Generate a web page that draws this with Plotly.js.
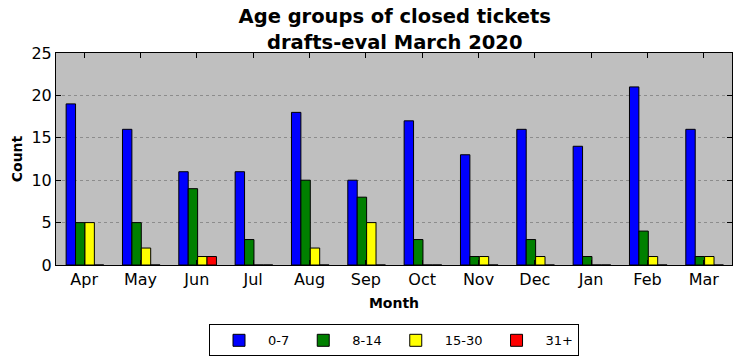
<!DOCTYPE html>
<html>
<head>
<meta charset="utf-8">
<script src="https://cdn.plot.ly/plotly-3.0.1.min.js"></script>
<style>html,body{margin:0;padding:0;background:#fff;}#chart{width:742px;height:361px;}</style>
</head>
<body>
<div id="chart"></div>
<script>
const months = ["Apr","May","Jun","Jul","Aug","Sep","Oct","Nov","Dec","Jan","Feb","Mar"];
const seriesNames = ["0-7","8-14","15-30","31+"];
const g0_7   = [19,16,11,11,18,10,17,13,16,14,21,16];
const g8_14  = [5,5,9,3,10,8,3,1,3,1,4,1];
const g15_30 = [5,2,1,0,2,5,0,1,1,0,1,1];
const g31p   = [0,0,1,0,0,0,0,0,0,0,0,0];
const colors = ["#0000ff","#008000","#ffff00","#ff0000"];

const allSeries = [g0_7, g8_14, g15_30, g31p];
const w = 0.167;
const start = -0.32;
const traces = allSeries.map((vals, i) => ({
  type: "bar",
  name: seriesNames[i],
  x: months,
  y: vals,
  width: w,
  offset: start + i * w,
  marker: {color: colors[i], line: {color: "#000", width: 1}},
  hoverinfo: "x+y+name"
}));

const layout = {
  width: 742, height: 361,
  margin: {l: 56, r: 10, t: 53, b: 96, autoexpand: false},
  paper_bgcolor: "#ffffff",
  plot_bgcolor: "#bfbfbf",
  barmode: "overlay",
  font: {family: "DejaVu Sans", color: "#000"},
  title: {
    text: "<b>Age groups of closed tickets<br>drafts-eval March 2020</b>",
    font: {size: 19.5, family: "DejaVu Sans", color: "#000"},
    x: 0.532, xanchor: "center", yref: "container", y: 0.935, yanchor: "top"
  },
  xaxis: {
    type: "category",
    range: [-0.5, 11.5],
    showline: true, linecolor: "#000", linewidth: 1, mirror: "ticks",
    ticks: "inside", ticklen: 5, tickcolor: "#000",
    tickfont: {size: 16},
    showgrid: false, zeroline: false,
    title: {text: "<b>Month</b>", font: {size: 14}, standoff: 9}
  },
  yaxis: {
    range: [0, 25], dtick: 5,
    showline: true, linecolor: "#000", linewidth: 1, mirror: "ticks",
    ticks: "inside", ticklen: 5, tickcolor: "#000",
    tickfont: {size: 16},
    showgrid: true, gridcolor: "#8c8c8c", griddash: "dot", gridwidth: 1,
    zeroline: false,
    title: {text: "<b>Count</b>", font: {size: 14}, standoff: 5}
  },
  legend: {
    orientation: "h",
    x: 0.5, xanchor: "center",
    y: -0.28, yanchor: "top",
    bordercolor: "#000", borderwidth: 1, bgcolor: "#fff",
    font: {size: 13},
    itemwidth: 48,
    traceorder: "normal"
  },
  showlegend: true
};

Plotly.newPlot("chart", traces, layout, {displayModeBar: false, staticPlot: true});
</script>
</body>
</html>
